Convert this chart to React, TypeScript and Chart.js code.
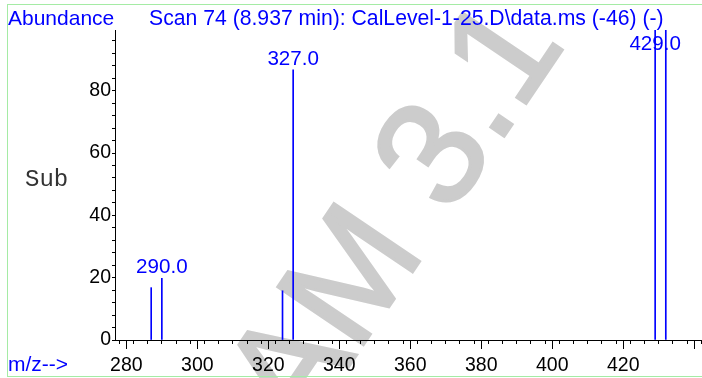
import React, { useEffect, useRef } from 'react';
import { Chart, registerables } from 'chart.js';

Chart.register(...registerables);

// ---- data ----
const mzValues = [287, 290, 324, 327, 429, 432];
const abundances = [16.8, 19.8, 15.8, 86.7, 100, 100];
const labeledPeaks = [290, 327, 429];

const xMin = 276.8;
const xMax = 442.2;
const xMajorStep = 20;
const xMinorStep = 4;
const xLastLabel = 420;
const yMin = 0;
const yMax = 99.5;
const yMajorStep = 20;
const yMinorStep = 4;

const titleText = 'Scan 74 (8.937 min): CalLevel-1-25.D\\data.ms (-46) (-)';
const yAxisTitle = 'Abundance';
const xAxisTitle = 'm/z-->';
const sideLabel = 'Sub';
const watermarkText = 'AM 3.1';

const SANS = '"Liberation Sans", Arial, Helvetica, sans-serif';
const MONO = '"Liberation Mono", "Courier New", monospace';
const BLUE = '#0000ff';

const decorPlugin = {
  id: 'decor',
  beforeDraw(chart: any) {
    const ctx: CanvasRenderingContext2D = chart.ctx;
    ctx.save();
    ctx.fillStyle = '#ffffff';
    ctx.fillRect(0, 0, chart.width, chart.height);
    // watermark
    const S = 150;
    ctx.translate(347, 273);
    ctx.rotate((-56 * Math.PI) / 180);
    ctx.font = `${S}px ${SANS}`;
    ctx.textAlign = 'left';
    ctx.textBaseline = 'alphabetic';
    const offX = ctx.measureText('A').width + ctx.measureText('M').width / 2;
    ctx.fillStyle = '#cccccc';
    ctx.strokeStyle = '#cccccc';
    ctx.lineWidth = 3;
    ctx.lineJoin = 'miter';
    ctx.fillText(watermarkText, -offX, 0.358 * S);
    ctx.strokeText(watermarkText, -offX, 0.358 * S);
    ctx.restore();
  },
  afterDraw(chart: any) {
    const ctx: CanvasRenderingContext2D = chart.ctx;
    const xs = chart.scales.x;
    const ys = chart.scales.y;
    const area = chart.chartArea;
    ctx.save();
    // frame
    ctx.strokeStyle = 'rgb(165,235,165)';
    ctx.lineWidth = 1;
    ctx.strokeRect(7.5, 4.5, 800, 372);
    // texts
    ctx.fillStyle = BLUE;
    ctx.font = `21px ${SANS}`;
    ctx.textAlign = 'left';
    ctx.textBaseline = 'alphabetic';
    ctx.fillText(yAxisTitle, 8, 25);
    ctx.font = `21.2px ${SANS}`;
    ctx.fillText(titleText, 149, 25);
    ctx.font = `21px ${SANS}`;
    ctx.fillText(xAxisTitle, 8, 371);
    // peak labels
    ctx.font = `20.6px ${SANS}`;
    ctx.textAlign = 'center';
    labeledPeaks.forEach((m) => {
      const i = mzValues.indexOf(m);
      const px = xs.getPixelForValue(m);
      const py = ys.getPixelForValue(abundances[i]);
      const base = Math.max(py, area.top + 25) - 5;
      ctx.fillText(m.toFixed(1), px, base);
    });
    // side label
    ctx.fillStyle = '#333333';
    ctx.font = `24px ${MONO}`;
    ctx.textAlign = 'left';
    ctx.fillText(sideLabel, 25, 186);
    ctx.restore();
  },
};

export default function App() {
  const ref = useRef<HTMLCanvasElement>(null);
  useEffect(() => {
    document.body.style.margin = '0';
    const tickFont = { family: SANS, size: 19.5 };
    const chart = new Chart(ref.current as HTMLCanvasElement, {
      type: 'bar',
      data: {
        datasets: [
          {
            data: mzValues.map((m, i) => ({ x: m, y: abundances[i] })),
            backgroundColor: BLUE,
            borderWidth: 0,
            barThickness: 1,
            clip: 0,
          } as any,
        ],
      },
      options: {
        animation: false,
        responsive: false,
        layout: { padding: { top: 30, left: 0, right: 0, bottom: 0 }, autoPadding: false } as any,
        plugins: { legend: { display: false }, tooltip: { enabled: false }, title: { display: false } },
        scales: {
          x: {
            type: 'linear',
            position: 'bottom',
            min: xMin,
            max: xMax,
            offset: false,
            grid: { drawOnChartArea: false, drawTicks: true, tickLength: 9, tickColor: '#000', offset: false },
            border: { display: true, color: '#000', width: 1 },
            ticks: {
              stepSize: xMajorStep,
              includeBounds: false,
              autoSkip: false,
              maxRotation: 0,
              color: '#000',
              font: tickFont,
              padding: 5,
              callback: (v: any) => (Number(v) <= xLastLabel ? String(v) : ''),
            },
            afterFit: (s: any) => {
              s.height = 38;
            },
          } as any,
          xMinor: {
            type: 'linear',
            position: { y: 0 },
            min: xMin,
            max: xMax,
            offset: false,
            grid: { drawOnChartArea: false, drawTicks: true, tickLength: 4, tickColor: '#000' },
            border: { display: false },
            ticks: { stepSize: xMinorStep, includeBounds: false, autoSkip: false, display: false },
          } as any,
          y: {
            type: 'linear',
            position: 'left',
            min: yMin,
            max: yMax,
            grid: { drawOnChartArea: false, drawTicks: true, tickLength: 3, tickColor: '#000' },
            border: { display: true, color: '#000', width: 1 },
            ticks: {
              stepSize: yMinorStep,
              includeBounds: false,
              autoSkip: false,
              color: '#000',
              font: tickFont,
              padding: 1,
              callback: (v: any) => (Number(v) % yMajorStep === 0 ? String(v) : ''),
            },
            afterFit: (s: any) => {
              s.width = 115;
            },
          } as any,
        },
      },
      plugins: [decorPlugin],
    });
    return () => chart.destroy();
  }, []);
  return (
    <div style={{ position: 'fixed', left: 0, top: 0, width: 702, height: 378, background: '#fff' }}>
      <canvas ref={ref} width={702} height={378} style={{ display: 'block', width: 702, height: 378 }} />
    </div>
  );
}
